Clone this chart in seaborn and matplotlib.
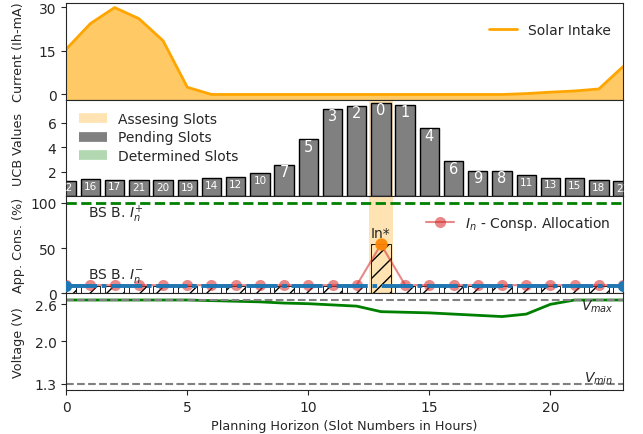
import numpy as np
import pandas as pd
import seaborn as sns
import matplotlib.pyplot as plt
from matplotlib.lines import Line2D

# ---- data ----
slots = list(range(24))
solar = [15.6, 24.4, 29.9, 26.1, 18.5, 2.5, 0, 0, 0, 0, 0, 0, 0, 0, 0, 0, 0, 0,
         0, 0.3, 0.8, 1.2, 1.9, 9.6]
ucb = [1.30, 1.40, 1.38, 1.31, 1.33, 1.35, 1.51, 1.59, 1.89, 2.57, 4.66, 7.14,
       7.39, 7.63, 7.47, 5.56, 2.87, 2.07, 2.10, 1.76, 1.54, 1.51, 1.36, 1.27]
rank = [22, 16, 17, 21, 20, 19, 14, 12, 10, 7, 5, 3, 2, 0, 1, 4, 6, 9, 8, 11,
        13, 15, 18, 23]
alloc = [9] * 24
alloc[13] = 54
base_cons = [8] * 24
base_cons[13] = 54
bs_low = 8.5
bs_high = 100
voltage = [2.67, 2.67, 2.67, 2.67, 2.67, 2.67, 2.66, 2.65, 2.64, 2.62, 2.61,
           2.59, 2.57, 2.48, 2.47, 2.46, 2.44, 2.42, 2.40, 2.44, 2.60, 2.67,
           2.67, 2.67]
v_max = 2.67
v_min = 1.3
assess_slot = 13

sns.set_style("ticks")
plt.rcParams['font.family'] = ['DejaVu Sans']
plt.rcParams['axes.labelsize'] = 9.2

fig, axes = plt.subplots(4, 1, figsize=(6.43, 4.35), dpi=100, sharex=True)
fig.subplots_adjust(left=0.103, right=0.969, top=0.991, bottom=0.101, hspace=0)
ax1, ax2, ax3, ax4 = axes

# ---- panel 1: solar intake ----
sns.lineplot(x=slots, y=solar, ax=ax1, color='orange', lw=2, label='Solar Intake')
ax1.fill_between(slots, solar, -2, color='orange', alpha=0.6, lw=0)
ax1.set_ylim(-1.8, 31.5)
ax1.set_yticks([0, 15, 30])
ax1.set_ylabel('Current (Ih-mA)')
ax1.legend(loc='upper right', bbox_to_anchor=(1.0, 0.92), frameon=False)

# ---- panel 2: UCB values ----
ax2.axvspan(assess_slot - 0.5, assess_slot + 0.5, color='orange', alpha=0.3, lw=0)
sns.barplot(x=slots, y=ucb, ax=ax2, native_scale=True, width=0.8, color='gray',
            saturation=1, edgecolor='black', linewidth=1)
for x, h, r in zip(slots, ucb, rank):
    ax2.text(x, h - 0.55, str(r), ha='center', va='center', color='white',
             fontsize=10.5 if r < 10 else 7.5)
ax2.set_ylim(0, 7.9)
ax2.set_yticks([2, 4, 6])
ax2.set_ylabel('UCB Values')
handles = [Line2D([], [], color='orange', alpha=0.3, lw=7, solid_capstyle='butt'),
           Line2D([], [], color='gray', lw=7, solid_capstyle='butt'),
           Line2D([], [], color='green', alpha=0.3, lw=7, solid_capstyle='butt')]
ax2.legend(handles, ['Assesing Slots', 'Pending Slots', 'Determined Slots'],
           loc='upper left', frameon=False, labelspacing=0.3)

# ---- panel 3: consumption allocation ----
ax3.axvspan(assess_slot - 0.5, assess_slot + 0.5, color='orange', alpha=0.3, lw=0)
ax3.bar(slots, base_cons, width=0.8, facecolor='none', edgecolor='black',
        hatch='//', lw=0.6)
ax3.axhline(bs_high, color='green', ls='--', lw=2)
sns.lineplot(x=slots, y=alloc, ax=ax3, color='tab:red', alpha=0.55, marker='o',
             ms=8, markeredgewidth=0, lw=1.5, label='$I_n$ - Consp. Allocation',
             zorder=3)
ax3.plot([slots[0], slots[-1]], [bs_low, bs_low], color='tab:blue', lw=2.8,
         dashes=(8, 1.2, 1.2, 1.2), marker='o', ms=7, zorder=5)
ax3.plot(assess_slot, alloc[assess_slot], 'o', color='darkorange', ms=8,
         alpha=0.85, zorder=6)
ax3.text(assess_slot, alloc[assess_slot] + 5, 'In*', ha='center', va='bottom',
         fontsize=10)
ax3.text(0.9, 88, 'BS B. $I_n^{+}$', va='center', fontsize=10)
ax3.text(0.9, 20, 'BS B. $I_n^{-}$', va='center', fontsize=10)
ax3.set_ylim(0, 107)
ax3.set_yticks([0, 50, 100])
ax3.set_ylabel('App. Cons. (%)')
ax3.legend(loc='upper right', bbox_to_anchor=(1.0, 0.95), frameon=False)

# ---- panel 4: voltage ----
sns.lineplot(x=slots, y=voltage, ax=ax4, color='green', lw=2)
ax4.axhline(v_max, color='gray', ls='--', lw=1.5)
ax4.axhline(v_min, color='gray', ls='--', lw=1.5)
ax4.text(22.6, v_max - 0.1, '$V_{max}$', ha='right', va='center', fontsize=10)
ax4.text(22.6, v_min + 0.1, '$V_{min}$', ha='right', va='center', fontsize=10)
ax4.set_ylim(1.2, 2.78)
ax4.set_yticks([1.3, 2.0, 2.6])
ax4.set_ylabel('Voltage (V)')
ax4.set_xlabel('Planning Horizon (Slot Numbers in Hours)')
ax4.set_xlim(0, 23)
ax4.set_xticks([0, 5, 10, 15, 20])

for ax in (ax1, ax2, ax3):
    ax.tick_params(axis='x', bottom=False)
fig.align_ylabels(axes)

plt.savefig('out.png', dpi=100)
